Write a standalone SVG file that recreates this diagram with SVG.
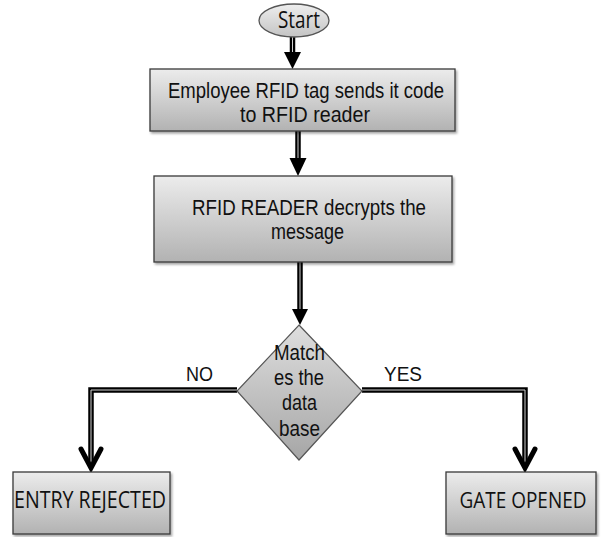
<svg xmlns="http://www.w3.org/2000/svg" xmlns:xlink="http://www.w3.org/1999/xlink" width="601" height="537" viewBox="0 0 601 537">
  <style>
    .box { stroke: #3a3a3a; stroke-width: 1.3; fill: url(#gBox); filter: url(#sh); }
    .dia { stroke: #555; stroke-width: 1.2; fill: url(#gDia); }
    .t { font-family: "Liberation Sans", Arial, sans-serif; font-size: 21.5px; fill: #111; text-anchor: middle; }
    .c { font-family: "Open Sans", "Noto Sans", sans-serif; font-size: 23px; fill: #111; text-anchor: middle; }
    .cs { font-family: "Open Sans", "Noto Sans", sans-serif; font-size: 21px; fill: #111; text-anchor: middle; }
    .lbl { font-family: "Liberation Sans", Arial, sans-serif; font-size: 20px; fill: #111; }
    .wire { fill: none; stroke: #000; stroke-width: 5.5; }
    .core { fill: none; stroke: #d0d0d0; stroke-width: 1; }
    .head { fill: #000; }
    .chev { fill: none; stroke: #000; stroke-width: 5; stroke-linejoin: miter; stroke-linecap: round; }
  </style>
  <defs>
    <linearGradient id="gBox" x1="0" y1="0" x2="0" y2="1">
      <stop offset="0" stop-color="#ececec"/>
      <stop offset="1" stop-color="#b2b2b2"/>
    </linearGradient>
    <linearGradient id="gDia" x1="0" y1="0" x2="0" y2="1">
      <stop offset="0" stop-color="#dedede"/>
      <stop offset="1" stop-color="#a6a6a6"/>
    </linearGradient>
    <linearGradient id="gEll" x1="0" y1="0" x2="0" y2="1">
      <stop offset="0" stop-color="#eeeeee"/>
      <stop offset="1" stop-color="#c4c4c4"/>
    </linearGradient>
    <filter id="sh" x="-5%" y="-10%" width="115%" height="130%">
      <feDropShadow dx="1.5" dy="2" stdDeviation="1.2" flood-color="#000" flood-opacity="0.35"/>
    </filter>
    <path id="p1" d="M292.5,37 V53"/>
    <path id="p2" d="M298,131 V159"/>
    <path id="p3" d="M300,262 V311"/>
    <path id="p4" d="M237,390 H91 V466"/>
    <path id="p5" d="M362,390 H525 V466"/>
  </defs>

  <g id="connectors">
    <use xlink:href="#p1" class="wire"/>
    <use xlink:href="#p1" class="core"/>
    <polygon class="head" points="284,52 301,52 292.5,69"/>
    <use xlink:href="#p2" class="wire"/>
    <use xlink:href="#p2" class="core"/>
    <polygon class="head" points="289.5,158 306.5,158 298,176"/>
    <use xlink:href="#p3" class="wire"/>
    <use xlink:href="#p3" class="core"/>
    <polygon class="head" points="292,309 308,309 300,325"/>
    <use xlink:href="#p4" class="wire"/>
    <use xlink:href="#p4" class="core"/>
    <path class="chev" d="M81,449 L91,468 L101,449"/>
    <use xlink:href="#p5" class="wire"/>
    <use xlink:href="#p5" class="core"/>
    <path class="chev" d="M515,449 L525,468 L535,449"/>
    <text class="lbl" x="186" y="381" textLength="27" lengthAdjust="spacingAndGlyphs">NO</text>
    <text class="lbl" x="384" y="381" textLength="38" lengthAdjust="spacingAndGlyphs">YES</text>
  </g>

  <g id="start">
    <ellipse cx="294" cy="20.5" rx="35" ry="16.5" fill="url(#gEll)" stroke="#555" stroke-width="1.3"/>
    <text class="c" x="299" y="28" textLength="42" lengthAdjust="spacingAndGlyphs">Start</text>
  </g>

  <g id="send">
    <rect class="box" x="150" y="69" width="305" height="62"/>
    <text class="t" x="306" y="98" textLength="276" lengthAdjust="spacingAndGlyphs">Employee RFID tag sends it code</text>
    <text class="t" x="305" y="122" textLength="130" lengthAdjust="spacingAndGlyphs">to  RFID reader</text>
  </g>

  <g id="decrypt">
    <rect class="box" x="154" y="176" width="298" height="86"/>
    <text class="t" x="309" y="215" textLength="234" lengthAdjust="spacingAndGlyphs">RFID READER decrypts the</text>
    <text class="t" x="307.5" y="239" textLength="73" lengthAdjust="spacingAndGlyphs">message</text>
  </g>

  <g id="decision">
    <polygon class="dia" points="299,325 362,391 299,460 237,391"/>
    <text class="t" x="299.5" y="360" textLength="51" lengthAdjust="spacingAndGlyphs">Match</text>
    <text class="t" x="299" y="385" textLength="50" lengthAdjust="spacingAndGlyphs">es the</text>
    <text class="t" x="299.5" y="410" textLength="35" lengthAdjust="spacingAndGlyphs">data</text>
    <text class="t" x="299.5" y="436" textLength="41" lengthAdjust="spacingAndGlyphs">base</text>
  </g>

  <g id="rejected">
    <rect class="box" x="13" y="472" width="157" height="62"/>
    <text class="c" x="90" y="508" textLength="152" lengthAdjust="spacingAndGlyphs">ENTRY REJECTED</text>
  </g>

  <g id="opened">
    <rect class="box" x="446" y="472" width="150" height="62"/>
    <text class="cs" x="523" y="508" textLength="127" lengthAdjust="spacingAndGlyphs">GATE OPENED</text>
  </g>
</svg>
